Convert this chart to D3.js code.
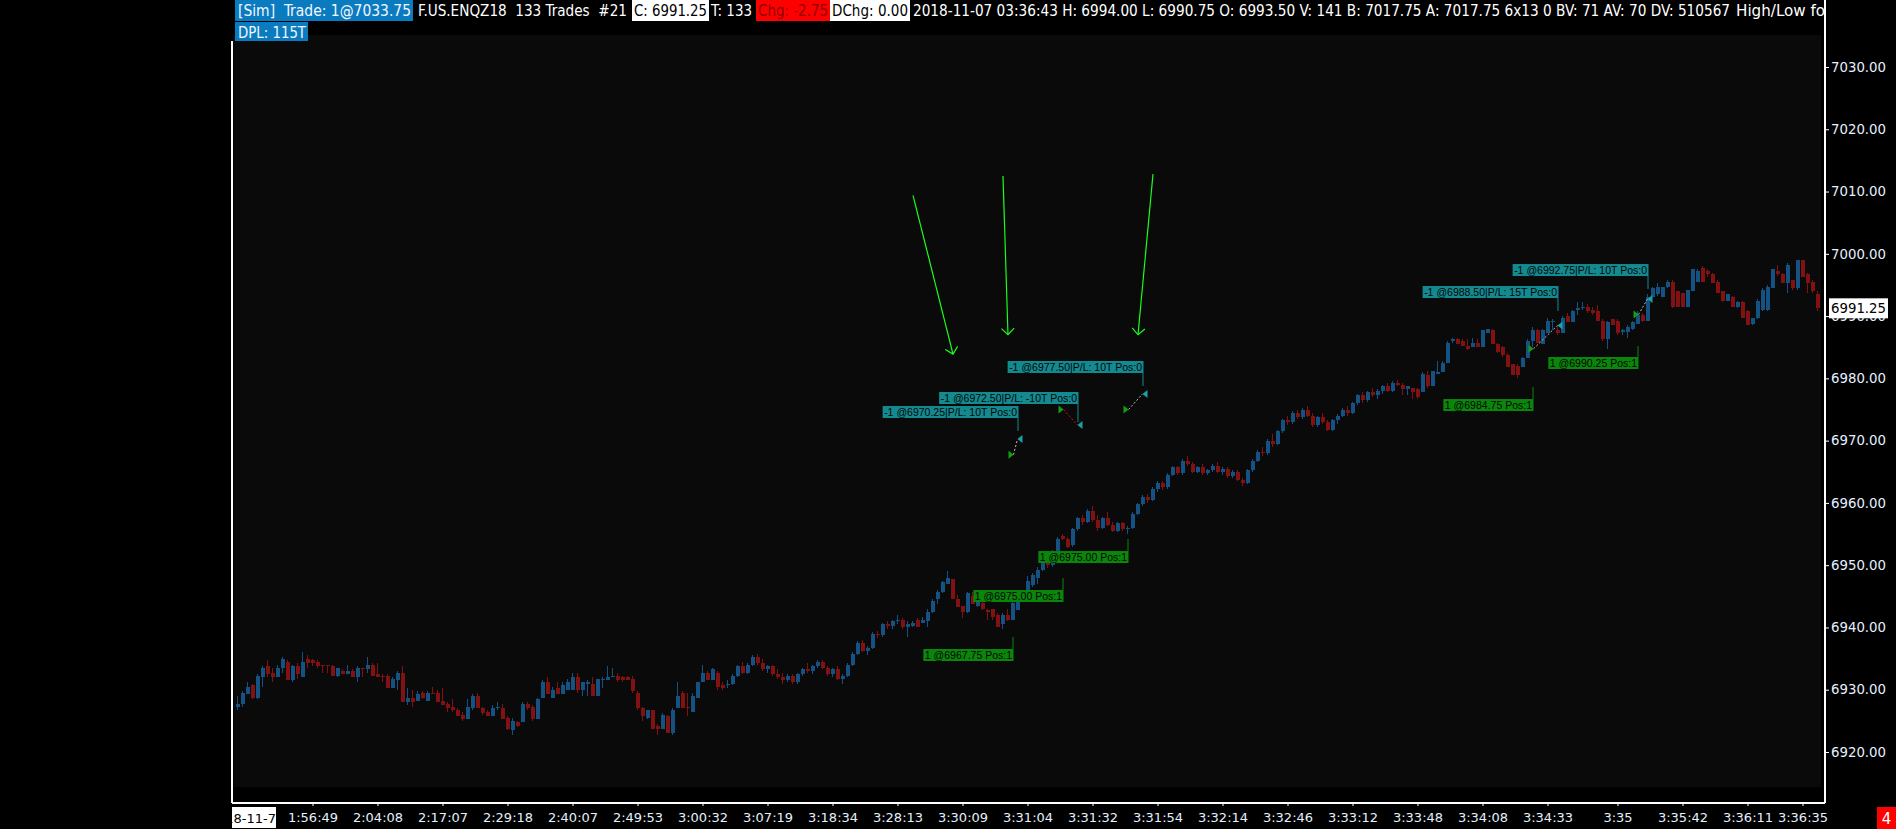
<!DOCTYPE html>
<html>
<head>
<meta charset="utf-8">
<script src="https://cdn.jsdelivr.net/npm/d3@7"></script>
<style>
  body { margin: 0; background: #000; overflow: hidden; }
  text { white-space: pre; }
</style>
</head>
<body>
<svg id="chart"></svg>
<script>
// OHLC per bar (133 trades per bar)
const opens = [
  6927.25, 6927.75, 6929.25, 6930.75, 6928.75, 6932.0, 6933.75, 6932.75, 6932.0, 6933.5,
  6934.5, 6931.5, 6933.75, 6932.0, 6935.0, 6934.75, 6934.5, 6934.0, 6934.0, 6933.75,
  6932.25, 6933.0, 6932.5, 6933.0, 6932.0, 6933.5, 6933.25, 6934.0, 6932.5, 6932.25,
  6932.25, 6930.25, 6931.5, 6932.75, 6928.0, 6928.75, 6928.25, 6929.5, 6928.25, 6929.5,
  6929.5, 6928.25, 6927.75, 6927.25, 6926.75, 6926.0, 6925.25, 6927.0, 6929.0, 6927.0,
  6926.5, 6925.75, 6927.0, 6927.0, 6925.5, 6923.5, 6924.75, 6924.75, 6927.75, 6927.25,
  6925.25, 6928.75, 6931.25, 6928.75, 6930.25, 6929.25, 6930.0, 6930.0, 6932.0, 6930.0,
  6931.0, 6931.0, 6929.0, 6931.5, 6931.5, 6932.0, 6932.25, 6932.0, 6932.0, 6931.75,
  6929.5, 6927.0, 6925.5, 6926.75, 6924.25, 6923.75, 6925.75, 6923.0, 6927.0, 6929.5,
  6927.25, 6926.5, 6928.75, 6931.25, 6932.75, 6931.5, 6932.75, 6930.75, 6930.75, 6931.0,
  6932.25, 6933.75, 6932.75, 6934.0, 6935.25, 6934.25, 6933.25, 6933.75, 6932.5, 6932.0,
  6931.5, 6932.25, 6931.25, 6932.5, 6933.25, 6933.0, 6933.75, 6934.5, 6933.5, 6932.5,
  6933.25, 6931.75, 6932.25, 6934.0, 6935.75, 6937.5, 6936.25, 6936.75, 6939.0, 6938.75,
  6940.5, 6940.25, 6941.0, 6941.25, 6940.0, 6940.25, 6941.25, 6940.75, 6941.0, 6942.5,
  6944.5, 6945.75, 6947.0, 6947.75, 6944.5, 6943.5, 6942.5, 6945.0, 6943.5, 6944.0,
  6942.75, 6943.0, 6942.0, 6940.5, 6942.0, 6941.25, 6942.75, 6944.5, 6946.0, 6946.75,
  6948.0, 6949.25, 6951.0, 6950.0, 6952.25, 6954.75, 6954.25, 6953.25, 6955.75, 6957.5,
  6957.0, 6958.75, 6957.25, 6956.0, 6957.5, 6956.5, 6955.5, 6956.75, 6955.75, 6956.0,
  6958.25, 6959.75, 6961.0, 6960.5, 6962.25, 6963.25, 6962.5, 6964.5, 6965.75, 6964.75,
  6966.75, 6966.25, 6965.0, 6965.75, 6964.75, 6965.25, 6966.0, 6965.0, 6965.5, 6964.25,
  6965.0, 6963.75, 6963.25, 6965.25, 6966.75, 6968.25, 6968.0, 6970.0, 6969.5, 6971.5,
  6973.25, 6973.0, 6974.5, 6973.75, 6975.0, 6974.0, 6972.5, 6973.75, 6973.0, 6971.75,
  6973.25, 6974.0, 6975.0, 6974.5, 6976.0, 6977.25, 6976.5, 6977.75, 6977.25, 6978.0,
  6978.75, 6978.0, 6979.25, 6979.0, 6978.25, 6978.5, 6978.25, 6977.75, 6980.5, 6978.75,
  6980.75, 6981.0, 6982.5, 6986.0, 6986.25, 6986.0, 6985.25, 6985.0, 6985.75, 6985.0,
  6987.25, 6987.75, 6985.5, 6985.0, 6983.75, 6982.25, 6982.0, 6981.75, 6983.25, 6986.0,
  6987.75, 6985.5, 6987.25, 6989.0, 6987.75, 6987.25, 6990.0, 6989.0, 6991.0, 6991.25,
  6991.5, 6991.0, 6990.75, 6989.25, 6986.25, 6989.5, 6989.25, 6987.5, 6987.5, 6988.0,
  6988.75, 6990.25, 6989.25, 6993.0, 6993.5, 6993.0, 6994.75, 6995.5, 6994.0, 6993.75,
  6991.5, 6994.0, 6995.5, 6997.75, 6997.25, 6996.75, 6995.5, 6994.0, 6992.5, 6993.0,
  6991.5, 6992.25, 6990.75, 6988.75, 6989.75, 6991.0, 6991.0, 6994.5, 6997.25, 6996.75,
  6995.25, 6995.75, 6994.5, 6999.0, 6996.75, 6995.5, 6993.5
];
const highs = [
  6929.0, 6929.75, 6931.25, 6931.0, 6932.5, 6933.75, 6934.75, 6933.5, 6934.0, 6935.25,
  6934.75, 6934.0, 6934.25, 6936.0, 6935.5, 6935.0, 6934.75, 6934.0, 6934.0, 6934.0,
  6933.5, 6933.25, 6934.0, 6933.25, 6933.75, 6933.5, 6935.25, 6934.25, 6934.25, 6932.5,
  6932.5, 6932.0, 6933.0, 6933.75, 6930.25, 6930.0, 6929.75, 6929.75, 6929.75, 6930.5,
  6930.0, 6930.25, 6928.0, 6928.5, 6927.0, 6926.5, 6928.5, 6929.25, 6929.5, 6927.25,
  6926.75, 6927.5, 6928.0, 6927.75, 6925.75, 6925.5, 6925.0, 6928.0, 6928.0, 6927.5,
  6928.75, 6931.5, 6932.0, 6930.5, 6931.25, 6931.25, 6931.75, 6932.75, 6932.75, 6931.25,
  6931.5, 6932.0, 6931.75, 6932.0, 6933.75, 6933.5, 6932.75, 6932.25, 6932.25, 6932.25,
  6929.75, 6927.25, 6926.75, 6926.75, 6924.5, 6926.25, 6926.0, 6927.0, 6931.25, 6929.75,
  6929.5, 6929.5, 6931.25, 6934.0, 6933.0, 6933.5, 6933.0, 6931.25, 6931.5, 6932.5,
  6934.0, 6934.5, 6934.25, 6935.5, 6935.75, 6935.0, 6934.0, 6934.0, 6933.25, 6932.75,
  6932.5, 6932.5, 6932.75, 6933.5, 6934.25, 6934.0, 6934.75, 6934.75, 6933.75, 6933.5,
  6933.75, 6932.5, 6934.25, 6936.0, 6937.75, 6938.0, 6937.0, 6939.25, 6939.5, 6940.75,
  6941.0, 6941.25, 6942.0, 6941.5, 6941.0, 6941.0, 6941.5, 6941.75, 6943.0, 6944.5,
  6946.0, 6947.5, 6949.0, 6947.75, 6945.25, 6943.5, 6945.75, 6945.75, 6944.5, 6944.25,
  6943.0, 6943.0, 6942.25, 6942.25, 6943.0, 6944.25, 6945.0, 6946.0, 6948.25, 6948.75,
  6949.75, 6951.25, 6951.25, 6952.5, 6954.5, 6955.0, 6954.5, 6956.0, 6957.75, 6958.0,
  6959.0, 6959.5, 6958.0, 6957.75, 6958.5, 6957.0, 6957.0, 6957.0, 6956.25, 6958.5,
  6960.0, 6961.25, 6961.5, 6962.5, 6963.5, 6963.5, 6964.75, 6966.0, 6966.0, 6967.0,
  6967.5, 6966.5, 6966.0, 6966.25, 6965.5, 6966.25, 6966.5, 6965.75, 6965.75, 6965.25,
  6965.25, 6964.0, 6965.5, 6967.0, 6968.5, 6969.0, 6970.25, 6971.0, 6971.75, 6973.5,
  6974.0, 6974.75, 6975.0, 6975.25, 6975.5, 6974.5, 6974.0, 6974.5, 6973.25, 6973.5,
  6974.25, 6975.25, 6975.5, 6976.25, 6977.5, 6977.75, 6978.0, 6978.5, 6978.25, 6979.0,
  6979.25, 6979.5, 6979.75, 6979.25, 6978.75, 6978.5, 6978.5, 6981.0, 6981.25, 6981.25,
  6982.75, 6982.75, 6986.0, 6986.5, 6986.5, 6986.25, 6986.25, 6986.5, 6986.25, 6987.75,
  6988.0, 6988.0, 6985.75, 6985.25, 6984.0, 6982.25, 6982.25, 6983.5, 6986.25, 6988.25,
  6988.0, 6988.0, 6989.75, 6989.5, 6988.5, 6990.0, 6990.5, 6991.0, 6992.25, 6992.25,
  6992.0, 6991.5, 6991.75, 6989.5, 6989.25, 6989.5, 6989.5, 6988.0, 6988.5, 6989.25,
  6990.75, 6990.5, 6993.5, 6994.75, 6995.25, 6994.75, 6995.75, 6995.75, 6994.0, 6993.75,
  6994.25, 6997.5, 6997.5, 6998.0, 6997.5, 6997.0, 6995.75, 6994.0, 6993.5, 6993.25,
  6992.5, 6992.5, 6991.0, 6989.75, 6992.75, 6994.5, 6995.0, 6997.5, 6998.25, 6997.0,
  6998.5, 6995.75, 6999.0, 6999.0, 6997.0, 6995.75, 6994.0
];
const lows = [
  6926.75, 6927.25, 6929.25, 6928.5, 6928.5, 6930.5, 6932.0, 6931.25, 6932.0, 6932.75,
  6931.5, 6931.25, 6931.75, 6932.0, 6933.5, 6933.75, 6933.5, 6932.75, 6932.75, 6932.25,
  6932.0, 6932.5, 6932.5, 6932.0, 6931.25, 6932.0, 6932.75, 6932.25, 6932.0, 6931.25,
  6930.25, 6930.25, 6930.0, 6928.0, 6927.5, 6927.25, 6928.25, 6928.5, 6928.25, 6929.25,
  6928.0, 6927.5, 6926.5, 6926.5, 6925.75, 6925.0, 6925.25, 6926.75, 6927.0, 6926.0,
  6925.75, 6925.75, 6926.75, 6925.25, 6923.5, 6922.75, 6924.0, 6924.75, 6926.75, 6925.0,
  6925.25, 6928.75, 6929.25, 6928.75, 6929.25, 6929.25, 6930.0, 6930.0, 6929.5, 6929.0,
  6929.0, 6929.0, 6929.0, 6930.25, 6931.5, 6932.0, 6931.25, 6931.25, 6931.5, 6929.5,
  6926.75, 6925.0, 6925.25, 6923.75, 6922.75, 6923.75, 6923.0, 6922.75, 6927.0, 6927.0,
  6925.75, 6926.5, 6928.75, 6931.25, 6931.5, 6931.5, 6930.0, 6930.0, 6930.25, 6930.75,
  6932.0, 6932.5, 6932.5, 6933.75, 6934.0, 6933.0, 6932.75, 6932.25, 6931.75, 6931.0,
  6931.25, 6931.0, 6931.0, 6932.25, 6932.75, 6932.5, 6933.5, 6933.25, 6932.25, 6932.0,
  6931.5, 6931.0, 6932.0, 6933.75, 6935.5, 6936.0, 6935.5, 6936.5, 6938.25, 6938.5,
  6939.75, 6939.75, 6940.5, 6939.75, 6938.5, 6940.0, 6940.0, 6940.75, 6940.0, 6942.25,
  6943.75, 6945.5, 6947.0, 6944.5, 6943.25, 6941.5, 6942.25, 6943.75, 6943.25, 6942.75,
  6941.25, 6941.25, 6940.0, 6939.75, 6941.0, 6941.25, 6942.75, 6944.25, 6945.75, 6946.5,
  6947.0, 6949.0, 6949.5, 6949.75, 6952.0, 6954.0, 6952.75, 6953.0, 6955.5, 6956.5,
  6956.75, 6957.0, 6955.5, 6955.75, 6956.25, 6955.25, 6955.25, 6955.5, 6955.0, 6955.75,
  6958.0, 6959.5, 6960.0, 6960.25, 6961.75, 6962.0, 6962.25, 6964.25, 6964.5, 6964.5,
  6966.0, 6964.75, 6964.75, 6964.5, 6964.5, 6965.0, 6964.75, 6964.5, 6964.0, 6964.0,
  6963.5, 6962.75, 6963.0, 6965.0, 6966.5, 6967.5, 6967.75, 6969.0, 6969.25, 6971.25,
  6972.5, 6972.75, 6973.5, 6973.5, 6973.75, 6972.25, 6972.25, 6972.75, 6971.5, 6971.5,
  6972.75, 6973.75, 6974.0, 6974.25, 6975.75, 6976.0, 6976.25, 6977.0, 6976.75, 6977.5,
  6977.75, 6977.75, 6978.75, 6977.25, 6977.25, 6976.75, 6976.75, 6977.75, 6978.5, 6978.75,
  6980.75, 6981.0, 6982.5, 6985.75, 6985.5, 6985.25, 6984.5, 6985.0, 6985.0, 6985.0,
  6987.25, 6985.5, 6984.0, 6983.5, 6981.75, 6980.5, 6980.0, 6981.75, 6983.25, 6985.0,
  6985.75, 6985.5, 6987.25, 6987.75, 6987.0, 6987.25, 6989.0, 6989.0, 6990.25, 6991.0,
  6990.5, 6990.25, 6989.25, 6986.0, 6984.75, 6988.5, 6987.0, 6987.0, 6986.5, 6987.75,
  6988.75, 6989.0, 6989.25, 6993.0, 6993.25, 6993.0, 6994.5, 6991.25, 6991.5, 6991.5,
  6991.5, 6994.0, 6995.5, 6995.5, 6996.25, 6995.25, 6993.75, 6992.25, 6992.5, 6991.5,
  6991.25, 6989.75, 6988.5, 6988.5, 6989.5, 6990.75, 6990.75, 6994.5, 6996.5, 6995.25,
  6993.75, 6994.25, 6994.25, 6996.25, 6993.75, 6993.75, 6990.75
];
const closes = [
  6927.75, 6929.5, 6930.5, 6928.75, 6932.25, 6933.5, 6932.5, 6932.0, 6933.5, 6935.0,
  6931.5, 6933.75, 6932.5, 6934.5, 6934.25, 6934.25, 6933.75, 6933.75, 6933.75, 6932.25,
  6933.5, 6932.5, 6933.0, 6932.0, 6933.5, 6933.25, 6934.0, 6932.25, 6932.0, 6932.0,
  6930.25, 6931.75, 6932.75, 6928.0, 6928.75, 6928.0, 6929.25, 6928.75, 6929.5, 6929.25,
  6928.0, 6927.5, 6927.0, 6926.75, 6925.75, 6925.25, 6927.25, 6929.0, 6927.0, 6926.25,
  6925.75, 6927.0, 6927.25, 6925.25, 6923.75, 6925.0, 6924.25, 6927.75, 6927.0, 6925.25,
  6928.5, 6931.25, 6929.25, 6930.0, 6929.25, 6930.75, 6931.25, 6932.0, 6930.0, 6931.25,
  6931.25, 6929.0, 6931.75, 6931.75, 6932.0, 6932.25, 6931.5, 6931.5, 6931.5, 6929.75,
  6927.0, 6925.75, 6926.75, 6923.75, 6923.75, 6926.0, 6923.0, 6926.75, 6929.0, 6927.0,
  6927.0, 6929.0, 6931.25, 6932.75, 6931.5, 6933.25, 6930.5, 6930.25, 6931.0, 6932.25,
  6933.75, 6932.75, 6934.0, 6935.25, 6934.25, 6933.25, 6933.75, 6932.5, 6932.0, 6931.5,
  6932.25, 6931.25, 6932.5, 6933.25, 6933.0, 6933.75, 6934.5, 6933.5, 6932.5, 6933.25,
  6931.75, 6932.25, 6934.0, 6935.75, 6937.5, 6936.25, 6936.75, 6939.0, 6938.75, 6940.5,
  6940.25, 6941.0, 6941.25, 6940.0, 6940.5, 6940.75, 6940.0, 6941.25, 6942.5, 6944.25,
  6945.75, 6947.25, 6948.0, 6944.5, 6943.25, 6942.5, 6945.5, 6943.75, 6944.25, 6943.0,
  6942.5, 6941.75, 6940.0, 6942.0, 6941.25, 6944.0, 6944.75, 6945.75, 6947.5, 6948.5,
  6949.25, 6951.0, 6950.0, 6952.25, 6954.25, 6954.25, 6953.0, 6955.75, 6957.5, 6957.0,
  6958.75, 6957.25, 6956.0, 6957.5, 6956.5, 6955.5, 6956.75, 6955.75, 6956.0, 6958.25,
  6959.75, 6961.0, 6960.5, 6962.25, 6963.25, 6962.5, 6964.5, 6965.75, 6964.75, 6966.75,
  6966.25, 6965.0, 6965.75, 6964.75, 6965.25, 6966.0, 6965.0, 6965.5, 6964.25, 6965.0,
  6963.75, 6963.25, 6965.25, 6966.75, 6968.25, 6968.0, 6970.0, 6969.5, 6971.5, 6973.25,
  6973.0, 6974.5, 6973.75, 6975.0, 6974.0, 6972.5, 6973.75, 6973.0, 6971.75, 6973.25,
  6974.0, 6975.0, 6974.5, 6976.0, 6977.25, 6976.5, 6977.75, 6977.25, 6978.0, 6978.75,
  6978.0, 6979.25, 6979.0, 6978.25, 6978.75, 6977.75, 6977.0, 6980.75, 6978.75, 6981.25,
  6981.0, 6982.5, 6985.75, 6986.25, 6985.5, 6985.25, 6984.75, 6985.75, 6985.0, 6987.75,
  6988.0, 6985.5, 6984.25, 6983.75, 6981.75, 6980.5, 6980.5, 6983.25, 6986.0, 6987.75,
  6985.75, 6987.75, 6989.25, 6989.25, 6987.25, 6989.75, 6989.0, 6990.75, 6991.25, 6991.5,
  6990.75, 6990.5, 6989.25, 6986.25, 6989.0, 6988.5, 6987.25, 6987.75, 6988.25, 6989.0,
  6990.25, 6989.25, 6993.0, 6994.5, 6994.75, 6994.75, 6995.5, 6991.5, 6991.5, 6991.5,
  6994.25, 6997.5, 6997.25, 6995.5, 6996.75, 6995.25, 6993.75, 6992.5, 6993.5, 6991.5,
  6992.25, 6989.75, 6988.5, 6989.75, 6992.5, 6994.25, 6994.75, 6997.5, 6996.75, 6995.25,
  6998.25, 6994.5, 6999.0, 6996.25, 6995.25, 6994.0, 6991.25
];

// axes
const priceTicks = [6920, 6930, 6940, 6950, 6960, 6970, 6980, 6990, 7000, 7010, 7020, 7030];
const tickBars = [15, 28, 41, 54, 67, 80, 93, 106, 119, 132, 145, 158, 171, 184, 197, 210, 223, 236, 249, 262, 276, 289, 302, 313];
const tickLabels = ["1:56:49", "2:04:08", "2:17:07", "2:29:18", "2:40:07", "2:49:53", "3:00:32", "3:07:19",
  "3:18:34", "3:28:13", "3:30:09", "3:31:04", "3:31:32", "3:31:54", "3:32:14", "3:32:46", "3:33:12",
  "3:33:48", "3:34:08", "3:34:33", "3:35", "3:35:42", "3:36:11", "3:36:35"];

// trades: buy entry and sell exit
const buyBars = [155, 165, 178, 259, 280];
const buyPrices = [6967.75, 6975.00, 6975.00, 6984.75, 6990.25];
const sellBars = [156, 168, 181, 264, 282];
const sellPrices = [6970.25, 6972.50, 6977.50, 6988.50, 6992.75];
const profitTicks = [10, -10, 10, 15, 10];
// label anchors (box top / connector end)
const sellBoxTop = [6975.56, 6977.81, 6982.79, 6994.83, 6998.36];
const sellLineEnd = [6971.55, 6972.99, 6978.77, 6990.82, 6994.35];
const buyBoxTop = [6936.54, 6946.01, 6952.27, 6976.68, 6983.43];
const buyLineEnd = [6938.47, 6947.94, 6954.20, 6978.61, 6985.20];

// hand-drawn arrows
const arrowFromBar = [135.1, 153.1, 183.1];
const arrowFromPrice = [7009.4, 7012.5, 7012.8];
const arrowToBar = [143.1, 154.1, 180.1];
const arrowToPrice = [6983.9, 6987.0, 6987.0];

const W = 1896, H = 829;
const upColor = "#135282", downColor = "#821212";
const axisColor = "#e4f0ff";
const plotLeft = 232, plotRight = 1825, axisY = 803;

const svg = d3.select("#chart").attr("width", W).attr("height", H)
  .style("font-family", "'DejaVu Sans', sans-serif");

svg.append("rect").attr("width", W).attr("height", H).attr("fill", "#000");
svg.append("rect").attr("x", 234).attr("y", 35).attr("width", 1821 - 234).attr("height", 787 - 35)
  .attr("fill", "#0a0a0a");

const x = d3.scaleLinear()
  .domain([0, opens.length - 1])
  .range([237.5, 237.5 + 5 * (opens.length - 1)]);
const y = d3.scaleLinear()
  .domain([6920, 7030])
  .range([752, 67]);

const defs = svg.append("defs");
defs.append("clipPath").attr("id", "plotClip").append("rect")
  .attr("x", 233).attr("y", 35).attr("width", 1821 - 233).attr("height", 787 - 35);
defs.append("clipPath").attr("id", "headClip").append("rect")
  .attr("x", 0).attr("y", 0).attr("width", plotRight).attr("height", 45);
defs.append("clipPath").attr("id", "dateClip").append("rect")
  .attr("x", plotLeft).attr("y", 806).attr("width", 44).attr("height", 23);

const bars = opens.map((o, i) => ({ i, o, h: highs[i], l: lows[i], c: closes[i] }));
const plot = svg.append("g").attr("clip-path", "url(#plotClip)").attr("shape-rendering", "crispEdges");

// wicks
plot.selectAll(".wick").data(bars).join("rect")
  .attr("class", "wick")
  .attr("x", d => x(d.i) - 0.5)
  .attr("width", 1)
  .attr("y", d => y(d.h))
  .attr("height", d => Math.max(1, y(d.l) - y(d.h)))
  .attr("fill", d => d.c >= d.o ? upColor : downColor);

// bodies
plot.selectAll(".body").data(bars).join("rect")
  .attr("class", "body")
  .attr("x", d => x(d.i) - 1.5)
  .attr("width", 4)
  .attr("y", d => y(Math.max(d.o, d.c)))
  .attr("height", d => Math.max(1, Math.abs(y(d.o) - y(d.c))))
  .attr("fill", d => d.c >= d.o ? upColor : downColor);

// trade connectors
const trades = buyBars.map((b, i) => ({
  b, bp: buyPrices[i], s: sellBars[i], sp: sellPrices[i], pl: profitTicks[i],
  sTop: sellBoxTop[i], sEnd: sellLineEnd[i], bTop: buyBoxTop[i], bEnd: buyLineEnd[i]
}));
const tg = svg.append("g");

tg.selectAll(".conn").data(trades).join("line")
  .attr("x1", d => x(d.b) + 1).attr("y1", d => y(d.bp))
  .attr("x2", d => x(d.s)).attr("y2", d => y(d.sp))
  .attr("stroke", d => d.pl < 0 ? "#e01010" : "#bdbdbd")
  .attr("stroke-width", 1)
  .attr("stroke-dasharray", "2,2");

tg.selectAll(".buyTri").data(trades).join("path")
  .attr("d", d => {
    const cx = x(d.b) + 1, cy = y(d.bp);
    return `M${cx},${cy} L${cx - 5},${cy - 4} L${cx - 5},${cy + 4} Z`;
  })
  .attr("fill", "#12a012");

tg.selectAll(".sellTri").data(trades).join("path")
  .attr("d", d => {
    const cx = x(d.s), cy = y(d.sp);
    return `M${cx},${cy} L${cx + 5},${cy - 4} L${cx + 5},${cy + 4} Z`;
  })
  .attr("fill", "#1aa2a8");

const labelFont = "'Liberation Sans', Arial, sans-serif";

function tradeLabel(g, lx, boxTop, lineEnd, txt, bg, below) {
  const t = g.append("text")
    .attr("font-family", labelFont).attr("font-size", "10.5px")
    .attr("fill", "#050505").text(txt);
  const tw = t.node().getComputedTextLength();
  const bx = lx + 1 - (tw + 3);
  const by = y(boxTop);
  g.insert("rect", "text:last-of-type")
    .attr("x", bx).attr("y", by).attr("width", tw + 3).attr("height", 12)
    .attr("fill", bg);
  t.attr("x", bx + 1.5).attr("y", by + 10);
  g.append("line")
    .attr("x1", lx + 0.5).attr("x2", lx + 0.5)
    .attr("y1", below ? by : by + 12).attr("y2", y(lineEnd))
    .attr("stroke", bg).attr("stroke-width", 1);
}

trades.forEach(d => {
  const sg = tg.append("g");
  const sellTxt = "-1 @" + d3.format(".2f")(d.sp) + "|P/L: " + d.pl + "T Pos:0";
  tradeLabel(sg, x(d.s), d.sTop, d.sEnd, sellTxt, "#138a90", false);
  const bg = tg.append("g");
  const buyTxt = "1 @" + d3.format(".2f")(d.bp) + " Pos:1";
  tradeLabel(bg, x(d.b), d.bTop, d.bEnd, buyTxt, "#0a870a", true);
});

// green arrows
const ag = svg.append("g").attr("stroke", "#19ff19").attr("stroke-width", 1.2).attr("fill", "none");
arrowFromBar.forEach((fb, i) => {
  const x1 = x(fb), y1 = y(arrowFromPrice[i]);
  const x2 = x(arrowToBar[i]), y2 = y(arrowToPrice[i]);
  const a = Math.atan2(y2 - y1, x2 - x1);
  const len = 9, spread = Math.PI / 4;
  ag.append("line").attr("x1", x1).attr("y1", y1).attr("x2", x2).attr("y2", y2);
  ag.append("path").attr("d",
    `M${x2 - len * Math.cos(a - spread)},${y2 - len * Math.sin(a - spread)} L${x2},${y2} ` +
    `L${x2 - len * Math.cos(a + spread)},${y2 - len * Math.sin(a + spread)}`);
});

// price axis
const yAxis = svg.append("g")
  .attr("transform", `translate(${plotRight},0)`)
  .call(d3.axisRight(y).tickValues(priceTicks).tickFormat(d3.format(".2f")).tickSize(4).tickPadding(2));
yAxis.select(".domain").remove();
yAxis.selectAll("line").attr("stroke", "#fff");
yAxis.selectAll("text").attr("fill", axisColor).attr("font-size", "13.3px")
  .attr("font-family", "'DejaVu Sans', sans-serif");

// current price marker
const last = closes[closes.length - 1];
svg.append("rect").attr("x", 1829).attr("y", y(last) - 10).attr("width", 59).attr("height", 20)
  .attr("fill", "#fff");
svg.append("text").attr("x", 1831).attr("y", y(last) + 5)
  .attr("font-size", "13.3px").attr("fill", "#000").text(d3.format(".2f")(last));

// time axis
const xAxis = svg.append("g")
  .attr("transform", `translate(0,${axisY})`)
  .call(d3.axisBottom(x).tickValues(tickBars).tickFormat((d, i) => tickLabels[i]).tickSize(3).tickPadding(7));
xAxis.select(".domain").remove();
xAxis.selectAll("line").attr("stroke", "#fff");
xAxis.selectAll("text").attr("fill", axisColor).attr("font-size", "13px")
  .attr("font-family", "'DejaVu Sans', sans-serif");

// frame lines
const frame = svg.append("g").attr("stroke", "#fff").attr("stroke-width", 1.2).attr("shape-rendering", "crispEdges");
frame.append("line").attr("x1", plotRight).attr("x2", plotRight).attr("y1", 0).attr("y2", axisY);
frame.append("line").attr("x1", plotLeft).attr("x2", plotLeft).attr("y1", 41).attr("y2", axisY);
frame.append("line").attr("x1", plotLeft).attr("x2", plotRight).attr("y1", axisY).attr("y2", axisY);

// date label bottom-left
const dg = svg.append("g").attr("clip-path", "url(#dateClip)");
dg.append("rect").attr("x", plotLeft).attr("y", 807).attr("width", 44).attr("height", 21).attr("fill", "#fff");
dg.append("text").attr("x", 276).attr("y", 823).attr("text-anchor", "end")
  .attr("font-size", "13px").attr("fill", "#000").text("2018-11-7");

// bottom-right counter
svg.append("rect").attr("x", 1877).attr("y", 807).attr("width", 19).attr("height", 22).attr("fill", "#ff0000");
svg.append("text").attr("x", 1886.5).attr("y", 824).attr("text-anchor", "middle")
  .attr("font-size", "15px").attr("fill", "#fff").text("4");

// header line
const headFont = "'Liberation Sans Narrow', 'DejaVu Sans Condensed', 'Liberation Sans', sans-serif";
const head = svg.append("g").attr("clip-path", "url(#headClip)");
const headSegs = [
  { t: "[Sim]  Trade: 1@7033.75", x0: 238, x1: 411, row: 0, bg: "#0b7bc0", bx0: 235, bx1: 413, fg: "#f2f6ff" },
  { t: "F.US.ENQZ18  133 Trades  #21", x0: 418, x1: 627, row: 0, fg: "#ffffff" },
  { t: "C: 6991.25", x0: 634, x1: 707, row: 0, bg: "#ffffff", bx0: 632, bx1: 709, fg: "#000" },
  { t: "T: 133", x0: 711, x1: 752, row: 0, fg: "#ffffff" },
  { t: "Chg: -2.75", x0: 758, x1: 828, row: 0, bg: "#ff0000", bx0: 756, bx1: 830, fg: "#8c0000" },
  { t: "DChg: 0.00", x0: 832, x1: 908, row: 0, bg: "#ffffff", bx0: 830, bx1: 910, fg: "#000" },
  { t: "2018-11-07 03:36:43 H: 6994.00 L: 6990.75 O: 6993.50 V: 141 B: 7017.75 A: 7017.75 6x13 0 BV: 71 AV: 70 DV: 510567",
    x0: 913, x1: 1730, row: 0, fg: "#ffffff" },
  { t: "High/Low for Day", x0: 1736, x1: 1866, row: 0, fg: "#ffffff" },
  { t: "DPL: 115T", x0: 238, x1: 306, row: 1, bg: "#0b7bc0", bx0: 235, bx1: 308, fg: "#f2f6ff" }
];
headSegs.forEach(s => {
  const top = s.row === 0 ? 0 : 22;
  if (s.bg) {
    head.append("rect").attr("x", s.bx0).attr("y", top).attr("width", s.bx1 - s.bx0)
      .attr("height", s.row === 0 ? 21 : 19).attr("fill", s.bg);
  }
  head.append("text").attr("x", s.x0).attr("y", top + 15.5)
    .attr("font-family", headFont).attr("font-size", "15px").attr("fill", s.fg)
    .attr("textLength", s.x1 - s.x0).attr("lengthAdjust", "spacingAndGlyphs")
    .text(s.t);
});
</script>
</body>
</html>
